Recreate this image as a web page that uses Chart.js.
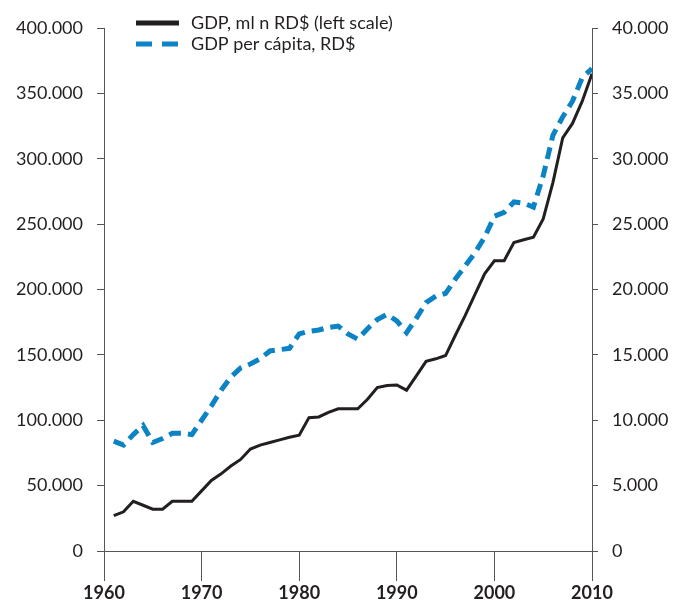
<!DOCTYPE html>
<html>
<head>
<meta charset="utf-8">
<script src="https://cdn.jsdelivr.net/npm/chart.js@4"></script>
<style>
  html, body { margin: 0; background: #fff; }
  #wrap { width: 675px; height: 604px; }
</style>
</head>
<body>
<div id="wrap"><canvas id="chart"></canvas></div>
<script>
// values
const years = [
    1961, 1962, 1963, 1964, 1965, 1966, 1967, 1968, 1969, 1970,
    1971, 1972, 1973, 1974, 1975, 1976, 1977, 1978, 1979, 1980,
    1981, 1982, 1983, 1984, 1985, 1986, 1987, 1988, 1989, 1990,
    1991, 1992, 1993, 1994, 1995, 1996, 1997, 1998, 1999, 2000,
    2001, 2002, 2003, 2004, 2005, 2006, 2007, 2008, 2009, 2010
];
// GDP, millions RD$ (left scale)
const gdpMillions = [
    27000, 30000, 38000, 35000, 32000, 32000, 38000, 38000, 38000, 46000,
    54000, 59000, 65000, 70000, 78000, 81000, 83000, 85000, 87000, 88500,
    102000, 102500, 106000, 108700, 108700, 108700, 116000, 125000, 126500, 127000,
    123000, 134000, 145000, 147000, 149500, 165000, 180000, 196000, 212000, 222000,
    222000, 236000, 238000, 240000, 254000, 282000, 316000, 327000, 344000, 365000
];
// GDP per capita, RD$ (right scale)
const gdpPerCapita = [
    8400, 8100, 8900, 9600, 8300, 8600, 9000, 9000, 8900, 10000,
    11100, 12300, 13300, 14000, 14300, 14700, 15300, 15400, 15500, 16600,
    16800, 16900, 17100, 17200, 16600, 16200, 17000, 17700, 18100, 17600,
    16700, 17800, 19000, 19500, 19700, 20800, 21800, 22800, 24000, 25600,
    25900, 26700, 26600, 26300, 28700, 31800, 33200, 34400, 36200, 36900
];
const seriesNames = ['GDP, ml n RD$ (left scale)', 'GDP per cápita, RD$'];
const yearTicks = [1960, 1970, 1980, 1990, 2000, 2010];
const leftTickLabels = ['0', '50.000', '100.000', '150.000', '200.000', '250.000', '300.000', '350.000', '400.000'];
const rightTickLabels = ['0', '5.000', '10.000', '15.000', '20.000', '25.000', '30.000', '35.000', '40.000'];

const BLACK = '#231f20';
const BLUE = '#0b83c4';
const AXIS = '#555555';
const FONT = 'Lato, "Open Sans", sans-serif';

// simple legend drawn top-left, like the original
const legendPlugin = {
    id: 'topLegend',
    afterDraw(chart) {
        const ctx = chart.ctx;
        const items = [
            { label: seriesNames[0], color: BLACK, dash: [], y: 23 },
            { label: seriesNames[1], color: BLUE, dash: [16, 10], y: 44 }
        ];
        ctx.save();
        items.forEach(it => {
            ctx.beginPath();
            ctx.setLineDash(it.dash);
            ctx.lineWidth = 5;
            ctx.strokeStyle = it.color;
            ctx.moveTo(136, it.y);
            ctx.lineTo(179, it.y);
            ctx.stroke();
            ctx.setLineDash([]);
            ctx.fillStyle = BLACK;
            ctx.font = '18px ' + FONT;
            ctx.textBaseline = 'middle';
            ctx.textAlign = 'left';
            ctx.fillText(it.label, 191, it.y);
        });
        ctx.restore();
    }
};

const ctx = document.getElementById('chart');
new Chart(ctx, {
    type: 'line',
    data: {
        datasets: [
            {
                label: seriesNames[1],
                data: years.map((y, i) => ({ x: y, y: gdpPerCapita[i] })),
                yAxisID: 'y2',
                borderColor: BLUE,
                borderWidth: 5,
                borderDash: [12, 7],
                pointRadius: 0,
                tension: 0,
                order: 0
            },
            {
                label: seriesNames[0],
                data: years.map((y, i) => ({ x: y, y: gdpMillions[i] })),
                yAxisID: 'y',
                borderColor: BLACK,
                borderWidth: 3,
                pointRadius: 0,
                tension: 0,
                order: 1
            }
        ]
    },
    options: {
        responsive: true,
        maintainAspectRatio: false,
        animation: false,
        layout: { padding: { top: 28, left: 0, right: 0, bottom: 0 } },
        plugins: {
            legend: { display: false },
            tooltip: { enabled: false }
        },
        scales: {
            x: {
                type: 'linear',
                min: 1960,
                max: 2010,
                afterBuildTicks: scale => { scale.ticks = yearTicks.map(v => ({ value: v })); },
                afterFit: scale => { scale.height = 53; },
                border: { color: AXIS, width: 1 },
                grid: { drawOnChartArea: false, tickLength: 30, color: AXIS },
                ticks: {
                    color: BLACK,
                    padding: 1,
                    maxRotation: 0,
                    font: { family: FONT, size: 18, weight: 'bold' },
                    callback: v => String(v)
                }
            },
            y: {
                position: 'left',
                min: 0,
                max: 400000,
                afterBuildTicks: scale => {
                    scale.ticks = leftTickLabels.map((_, i) => ({ value: i * 50000 }));
                },
                afterFit: scale => { scale.width = 104; },
                border: { color: AXIS, width: 1 },
                grid: { drawOnChartArea: false, tickLength: 7, color: AXIS },
                ticks: {
                    color: BLACK,
                    padding: 14,
                    font: { family: FONT, size: 18 },
                    callback: (v, i) => leftTickLabels[i]
                }
            },
            y2: {
                position: 'right',
                min: 0,
                max: 40000,
                afterBuildTicks: scale => {
                    scale.ticks = rightTickLabels.map((_, i) => ({ value: i * 5000 }));
                },
                afterFit: scale => { scale.width = 83; },
                border: { color: AXIS, width: 1 },
                grid: { drawOnChartArea: false, tickLength: 6, color: AXIS },
                ticks: {
                    color: BLACK,
                    padding: 14,
                    font: { family: FONT, size: 18 },
                    callback: (v, i) => rightTickLabels[i]
                }
            }
        }
    },
    plugins: [legendPlugin]
});
</script>
</body>
</html>
